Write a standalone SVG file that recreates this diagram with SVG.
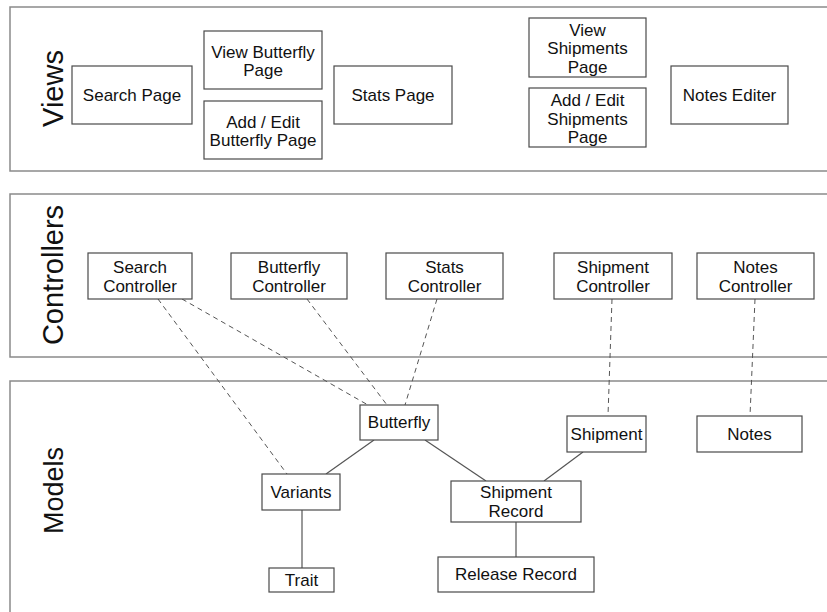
<svg xmlns="http://www.w3.org/2000/svg" width="827" height="612" viewBox="0 0 827 612">
<style>
.panel{fill:none;stroke:#8a8a8a;stroke-width:1.5}
.box{fill:#fff;stroke:#4a4a4a;stroke-width:1.2}
.t{font-family:"Liberation Sans",Arial,sans-serif;font-size:17px;fill:#111;text-anchor:middle}
.title{font-family:"Liberation Sans",Arial,sans-serif;font-size:29px;fill:#111;text-anchor:middle}
.dash{stroke:#555;stroke-width:1;stroke-dasharray:5,4;fill:none}
.solid{stroke:#555;stroke-width:1.2;fill:none}
</style>
<rect width="827" height="612" fill="#fff"/>
<g id="panels">
<path class="panel" d="M827,7 H10 V171 H827"/>
<path class="panel" d="M827,194 H10 V357 H827"/>
<path class="panel" d="M827,381 H10 V612"/>
<text class="title" transform="translate(63,88.5) rotate(-90)">Views</text>
<text class="title" transform="translate(63,275) rotate(-90)">Controllers</text>
<text class="title" style="font-size:27px" transform="translate(63,490.5) rotate(-90)">Models</text>
</g>
<g id="connectors">
<line class="dash" x1="158" y1="299" x2="287" y2="474"/>
<line class="dash" x1="182" y1="299" x2="368" y2="405"/>
<line class="dash" x1="307" y1="299" x2="387" y2="405"/>
<line class="dash" x1="437" y1="299" x2="405" y2="405"/>
<line class="dash" x1="612" y1="299" x2="608" y2="416"/>
<line class="dash" x1="755" y1="299" x2="750" y2="416"/>
<line class="solid" x1="374" y1="440" x2="326" y2="474"/>
<line class="solid" x1="425" y1="440" x2="486" y2="481"/>
<line class="solid" x1="583" y1="452" x2="544" y2="481"/>
<line class="solid" x1="302" y1="510" x2="302" y2="568"/>
<line class="solid" x1="516" y1="522" x2="516" y2="557"/>
</g>
<g id="search-page"><rect class="box" x="72" y="66" width="120" height="58"/><text class="t" x="132" y="101">Search Page</text></g>
<g id="view-butterfly-page"><rect class="box" x="204" y="31" width="118" height="58"/><text class="t" x="263" y="58">View Butterfly</text><text class="t" x="263" y="76">Page</text></g>
<g id="edit-butterfly-page"><rect class="box" x="204" y="101" width="118" height="58"/><text class="t" x="263" y="128">Add / Edit</text><text class="t" x="263" y="146">Butterfly Page</text></g>
<g id="stats-page"><rect class="box" x="334" y="66" width="118" height="58"/><text class="t" x="393" y="101">Stats Page</text></g>
<g id="view-shipments-page"><rect class="box" x="529" y="18" width="117" height="59"/><text class="t" x="587.5" y="35.5">View</text><text class="t" x="587.5" y="54">Shipments</text><text class="t" x="587.5" y="72.5">Page</text></g>
<g id="edit-shipments-page"><rect class="box" x="529" y="88" width="117" height="59"/><text class="t" x="587.5" y="106">Add / Edit</text><text class="t" x="587.5" y="124.5">Shipments</text><text class="t" x="587.5" y="143">Page</text></g>
<g id="notes-editer"><rect class="box" x="671" y="66" width="117" height="58"/><text class="t" x="729.5" y="101">Notes Editer</text></g>
<g id="search-controller"><rect class="box" x="88" y="253" width="104" height="46"/><text class="t" x="140" y="273">Search</text><text class="t" x="140" y="292">Controller</text></g>
<g id="butterfly-controller"><rect class="box" x="231" y="253" width="116" height="46"/><text class="t" x="289" y="273">Butterfly</text><text class="t" x="289" y="292">Controller</text></g>
<g id="stats-controller"><rect class="box" x="386" y="253" width="117" height="46"/><text class="t" x="444.5" y="273">Stats</text><text class="t" x="444.5" y="292">Controller</text></g>
<g id="shipment-controller"><rect class="box" x="554" y="253" width="118" height="46"/><text class="t" x="613" y="273">Shipment</text><text class="t" x="613" y="292">Controller</text></g>
<g id="notes-controller"><rect class="box" x="697" y="253" width="117" height="46"/><text class="t" x="755.5" y="273">Notes</text><text class="t" x="755.5" y="292">Controller</text></g>
<g id="butterfly"><rect class="box" x="360" y="405" width="78" height="35"/><text class="t" x="399" y="428">Butterfly</text></g>
<g id="variants"><rect class="box" x="262" y="474" width="78" height="36"/><text class="t" x="301" y="498">Variants</text></g>
<g id="trait"><rect class="box" x="269" y="568" width="65" height="24"/><text class="t" x="301.5" y="586">Trait</text></g>
<g id="shipment"><rect class="box" x="567" y="416" width="79" height="36"/><text class="t" x="606.5" y="440">Shipment</text></g>
<g id="notes"><rect class="box" x="697" y="416" width="105" height="36"/><text class="t" x="749.5" y="440">Notes</text></g>
<g id="shipment-record"><rect class="box" x="451" y="481" width="130" height="41"/><text class="t" x="516" y="498">Shipment</text><text class="t" x="516" y="517">Record</text></g>
<g id="release-record"><rect class="box" x="438" y="557" width="156" height="35"/><text class="t" x="516" y="580">Release Record</text></g>
</svg>
